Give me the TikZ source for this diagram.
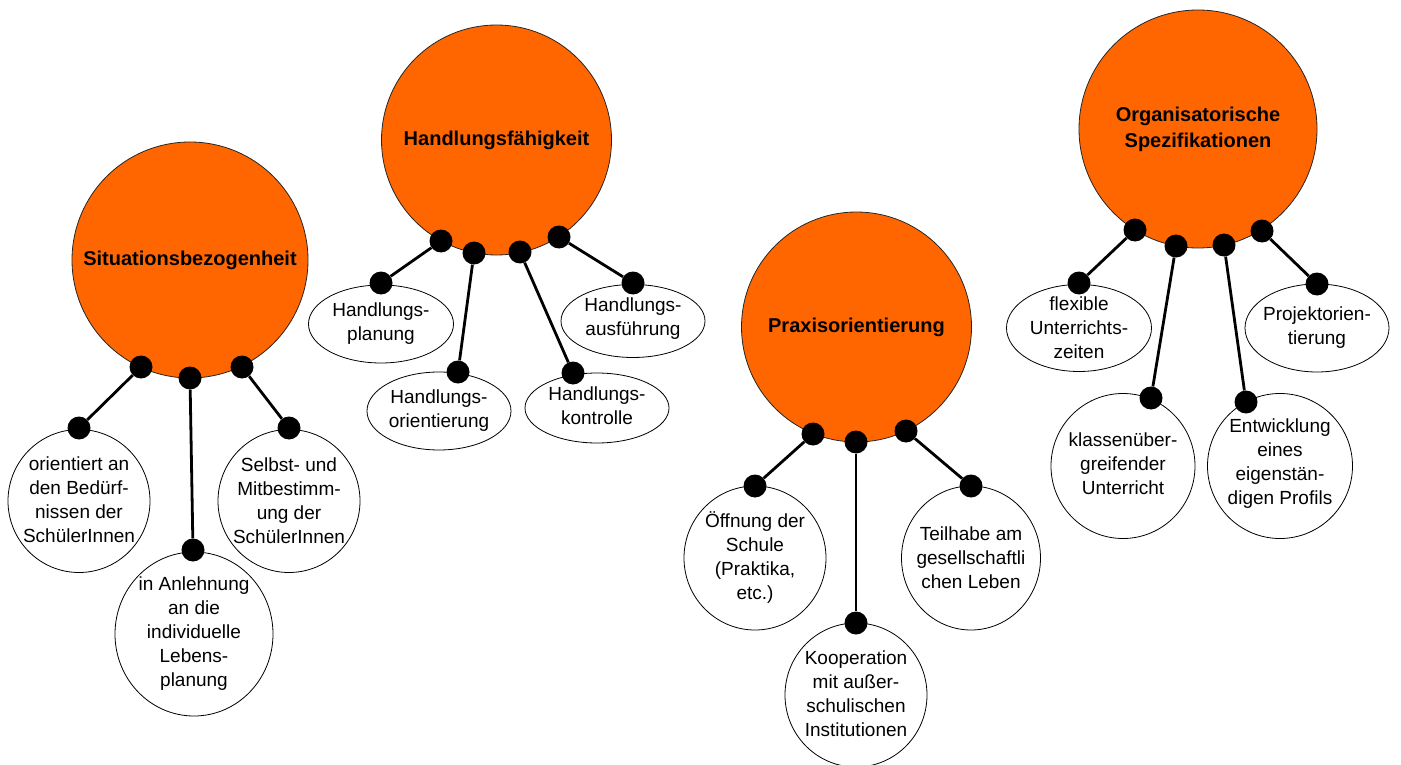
\documentclass[tikz,border=0pt]{standalone}
\usepackage{fontspec}
\setmainfont{Liberation Sans}
\usetikzlibrary{shapes.geometric}
\definecolor{hubfill}{HTML}{FF6600}
\begin{document}
\begin{tikzpicture}[x=1pt,y=-1pt,
  hub/.style={circle, draw=black!85, line width=0.8pt, fill=hubfill, inner sep=0pt, align=center,
    font=\bfseries\fontsize{20}{26}\selectfont},
  leaf/.style={ellipse, draw=black, line width=0.8pt, fill=white, inner sep=0pt},
  leaftext/.style={align=center, inner sep=0pt, font=\fontsize{19}{24}\selectfont},
  knob/.style={circle, fill=black, inner sep=0pt, minimum size=23pt},
  link/.style={line width=2.8pt, black}]
\useasboundingbox (0,0) rectangle (1401,765);

% hubs
\node[hub, minimum size=236pt] (C1) at (190,260) {Situationsbezogenheit};
\node[hub, minimum size=230pt] (C2) at (496.5,140) {Handlungsfähigkeit};
\node[hub, minimum size=230pt] (C3) at (856.5,327) {Praxisorientierung};
\node[hub, minimum size=238pt] (C4) at (1198,129) {Organisatorische\\Spezifikationen};

% leaves: Situationsbezogenheit
\node[leaf, minimum width=142pt, minimum height=143pt] (S1) at (79,501) {};
\node[leaf, minimum width=158pt, minimum height=164pt] (S2) at (194,634) {};
\node[leaf, minimum width=142pt, minimum height=143pt] (S3) at (289,501) {};
\node[leaftext] (S1t) at (79,500) {orientiert an\\den Bedürf-\\nissen der\\SchülerInnen};
\node[leaftext] (S2t) at (194,634) {in Anlehnung\\an die\\individuelle\\Lebens-\\planung};
\node[leaftext] (S3t) at (289,501) {Selbst- und\\Mitbestimm-\\ung der\\SchülerInnen};

% leaves: Handlungsfähigkeit
\node[leaf, minimum width=145pt, minimum height=78pt] (H1) at (381,324) {};
\node[leaf, minimum width=144pt, minimum height=78pt] (H2) at (439,411) {};
\node[leaf, minimum width=144pt, minimum height=70pt] (H3) at (597,408) {};
\node[leaf, minimum width=144pt, minimum height=73pt] (H4) at (633,321) {};
\node[leaftext] (H1t) at (381,324) {Handlungs-\\planung};
\node[leaftext] (H2t) at (439,411) {Handlungs-\\orientierung};
\node[leaftext] (H3t) at (597,406) {Handlungs-\\kontrolle};
\node[leaftext] (H4t) at (633,319) {Handlungs-\\ausführung};

% leaves: Praxisorientierung
\node[leaf, minimum width=142pt, minimum height=144pt] (P1) at (755,558) {};
\node[leaf, minimum width=142pt, minimum height=144pt] (P2) at (856,695) {};
\node[leaf, minimum width=139pt, minimum height=144pt] (P3) at (971,558) {};
\node[leaftext] (P1t) at (755,558) {Öffnung der\\Schule\\(Praktika,\\etc.)};
\node[leaftext] (P2t) at (856,694) {Kooperation\\mit außer-\\schulischen\\Institutionen};
\node[leaftext] (P3t) at (971,558) {Teilhabe am\\gesellschaftli\\chen Leben};

% leaves: Organisatorische Spezifikationen
\node[leaf, minimum width=145pt, minimum height=87pt] (O1) at (1079,328) {};
\node[leaf, minimum width=144pt, minimum height=145pt] (O2) at (1123,466) {};
\node[leaf, minimum width=145pt, minimum height=145pt] (O3) at (1280,466) {};
\node[leaf, minimum width=144pt, minimum height=88pt] (O4) at (1317,328) {};
\node[leaftext] (O1t) at (1079,328) {flexible\\Unterrichts-\\zeiten};
\node[leaftext] (O2t) at (1123,464) {klassenüber-\\greifender\\Unterricht};
\node[leaftext] (O3t) at (1280,464) {Entwicklung\\eines\\eigenstän-\\digen Profils};
\node[leaftext] (O4t) at (1317,328) {Projektorien-\\tierung};

% knobs on hubs
\node[knob] (a1) at (141,367) {};
\node[knob] (a2) at (190,378) {};
\node[knob] (a3) at (242,367) {};
\node[knob] (b1) at (441,241) {};
\node[knob] (b2) at (474,253) {};
\node[knob] (b3) at (520,252) {};
\node[knob] (b4) at (559,237) {};
\node[knob] (c1) at (813,434) {};
\node[knob] (c2) at (856,442) {};
\node[knob] (c3) at (906,431) {};
\node[knob] (e1) at (1135,230) {};
\node[knob] (e2) at (1176,246) {};
\node[knob] (e3) at (1224,245) {};
\node[knob] (e4) at (1262,231) {};

% knobs on leaves
\node[knob] (sa1) at (79,428) {};
\node[knob] (sa2) at (193,550) {};
\node[knob] (sa3) at (289,428) {};
\node[knob] (hb1) at (381,283) {};
\node[knob] (hb2) at (458,372) {};
\node[knob] (hb3) at (573,373) {};
\node[knob] (hb4) at (633,283) {};
\node[knob] (pc1) at (755,486) {};
\node[knob] (pc2) at (856,623) {};
\node[knob] (pc3) at (971,486) {};
\node[knob] (oe1) at (1079,283) {};
\node[knob] (oe2) at (1151,398) {};
\node[knob] (oe3) at (1246,402) {};
\node[knob] (oe4) at (1317,284) {};

% links
\draw[link] (a1) -- (sa1);
\draw[link] (a2) -- (sa2);
\draw[link] (a3) -- (sa3);
\draw[link] (b1) -- (hb1);
\draw[link] (b2) -- (hb2);
\draw[link] (b3) -- (hb3);
\draw[link] (b4) -- (hb4);
\draw[link] (c1) -- (pc1);
\draw[link] (c2) -- (pc2);
\draw[link] (c3) -- (pc3);
\draw[link] (e1) -- (oe1);
\draw[link] (e2) -- (oe2);
\draw[link] (e3) -- (oe3);
\draw[link] (e4) -- (oe4);
\end{tikzpicture}
\end{document}
